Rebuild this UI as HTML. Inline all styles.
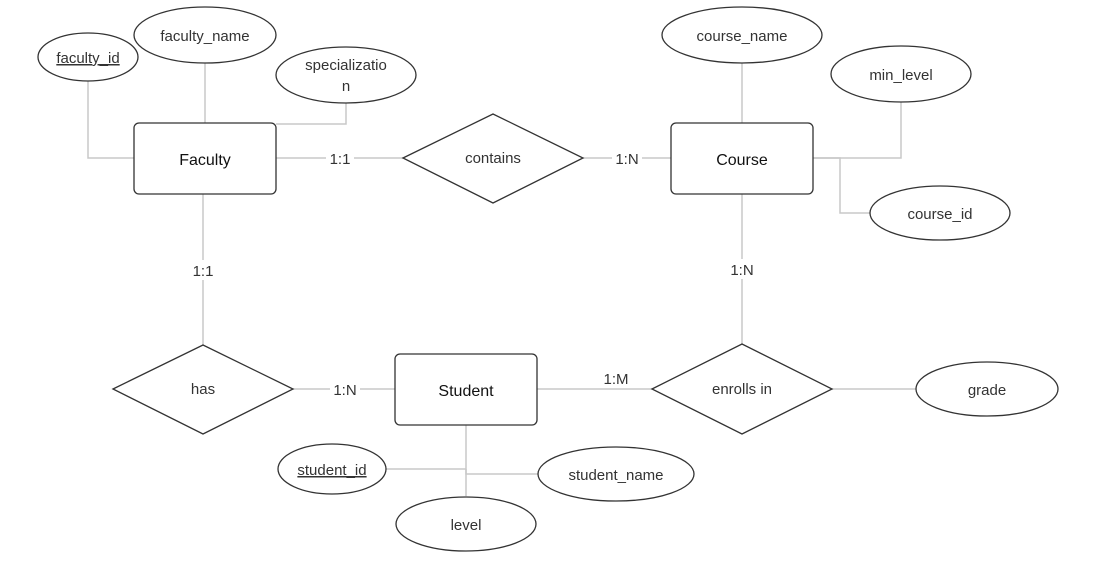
<!DOCTYPE html>
<html><head><meta charset="utf-8"><style>
html,body{margin:0;padding:0;background:#fff;}
text{font-family:"Liberation Sans",Arial,sans-serif;fill:#333;}
</style></head><body>
<svg width="1116" height="582" viewBox="0 0 1116 582" xmlns="http://www.w3.org/2000/svg">
<g fill="none" stroke="#c8c8c8" stroke-width="1.5">
<path d="M88 81 V158 H134"/>
<path d="M205 63 V123"/>
<path d="M346 103 V124 H276"/>
<path d="M276 158 H403"/>
<path d="M583 158 H671"/>
<path d="M742 63 V123"/>
<path d="M901 102 V158 H813"/>
<path d="M813 158 H840 V213 H870"/>
<path d="M742 194 V344"/>
<path d="M203 194 V345"/>
<path d="M293 389 H395"/>
<path d="M537 389 H652"/>
<path d="M832 389 H916"/>
<path d="M466 425 V496"/>
<path d="M386 469 H466"/>
<path d="M466 469 V474 H538"/>
</g>
<g fill="#fff" stroke="#333" stroke-width="1.3">
<rect x="134" y="123" width="142" height="71" rx="5"/>
<rect x="671" y="123" width="142" height="71" rx="5"/>
<rect x="395" y="354" width="142" height="71" rx="5"/>
<polygon points="403,158 493,114 583,158 493,203"/>
<polygon points="113,389 203,345 293,389 203,434"/>
<polygon points="652,389 742,344 832,389 742,434"/>
<ellipse cx="88" cy="57" rx="50" ry="24"/>
<ellipse cx="205" cy="35" rx="71" ry="28"/>
<ellipse cx="346" cy="75" rx="70" ry="28"/>
<ellipse cx="742" cy="35" rx="80" ry="28"/>
<ellipse cx="901" cy="74" rx="70" ry="28"/>
<ellipse cx="940" cy="213" rx="70" ry="27"/>
<ellipse cx="987" cy="389" rx="71" ry="27"/>
<ellipse cx="332" cy="469" rx="54" ry="25"/>
<ellipse cx="616" cy="474" rx="78" ry="27"/>
<ellipse cx="466" cy="524" rx="70" ry="27"/>
</g>
<g fill="#fff">
<rect x="326" y="148" width="28" height="20"/>
<rect x="612" y="148" width="30" height="20"/>
<rect x="727" y="259" width="30" height="20"/>
<rect x="188" y="260" width="30" height="20"/>
<rect x="330" y="379" width="30" height="20"/>
</g>
<g font-size="15" text-anchor="middle">
<text x="205" y="165" style="fill:#111" font-size="16">Faculty</text>
<text x="742" y="165" style="fill:#111" font-size="16">Course</text>
<text x="466" y="396" style="fill:#111" font-size="16">Student</text>
<text x="493" y="163">contains</text>
<text x="203" y="394">has</text>
<text x="742" y="394">enrolls in</text>
<text x="88" y="63" text-decoration="underline">faculty_id</text>
<text x="205" y="41">faculty_name</text>
<text x="346" y="70">specializatio</text>
<text x="346" y="91">n</text>
<text x="742" y="41">course_name</text>
<text x="901" y="80">min_level</text>
<text x="940" y="219">course_id</text>
<text x="987" y="395">grade</text>
<text x="332" y="475" text-decoration="underline">student_id</text>
<text x="616" y="480">student_name</text>
<text x="466" y="530">level</text>
<text x="340" y="164">1:1</text>
<text x="627" y="164">1:N</text>
<text x="742" y="275">1:N</text>
<text x="203" y="276">1:1</text>
<text x="345" y="395">1:N</text>
<text x="616" y="384">1:M</text>
</g>
</svg>
</body></html>
